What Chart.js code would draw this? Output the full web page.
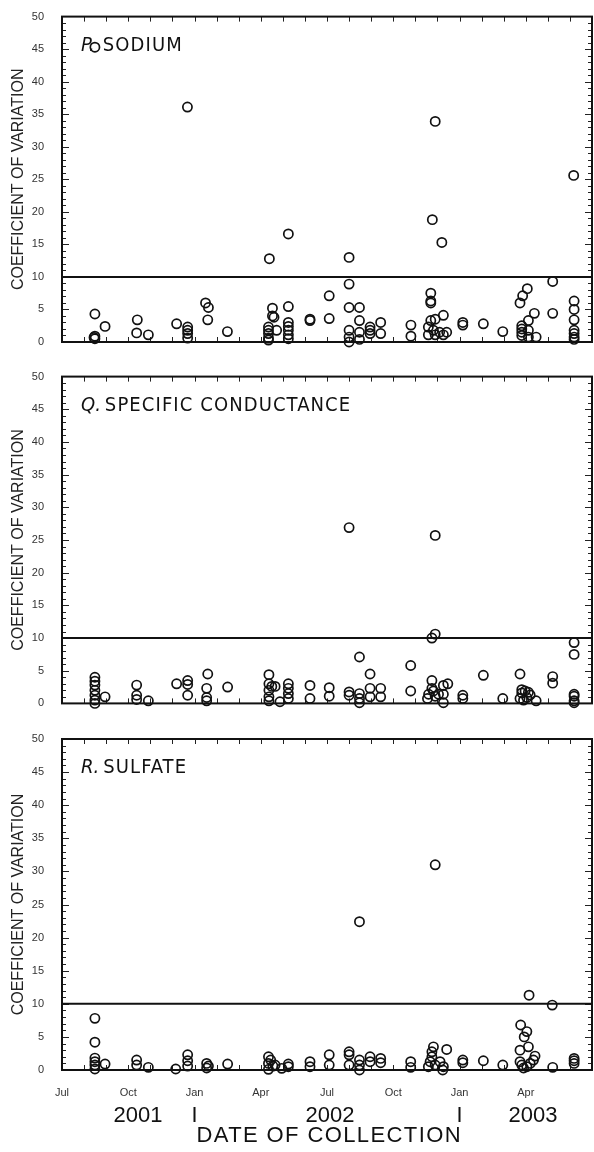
<!DOCTYPE html>
<html>
<head>
<meta charset="utf-8">
<script src="https://cdn.jsdelivr.net/npm/chart.js@4.4.0/dist/chart.umd.min.js"></script>
<style>
  body { margin: 0; background: #fff; overflow: hidden; }
  .panel { position: absolute; left: 0; width: 594px; }
</style>
</head>
<body>
<div class="panel" style="top:0;height:360px"><canvas id="sodiumChart"></canvas></div>
<div class="panel" style="top:360px;height:360px"><canvas id="conductanceChart"></canvas></div>
<div class="panel" style="top:720px;height:432px"><canvas id="sulfateChart"></canvas></div>
<script>
// x = months since 1 Jul 2001, y = coefficient of variation
const sodium = [
  [1.49,45.3],[5.68,36.1],[9.39,12.8],[10.25,16.6],[13.0,13.0],[16.9,33.9],[16.77,18.8],[17.2,15.3],[23.17,25.6],
  [1.49,4.3],[1.95,2.4],[1.49,0.9],[1.49,0.5],[1.45,0.7],
  [3.41,3.4],[3.38,1.4],[3.91,1.1],
  [5.19,2.8],[5.69,2.3],[5.69,1.8],[5.69,1.3],[5.69,0.6],
  [6.5,6.0],[6.63,5.3],[6.6,3.4],[7.49,1.6],
  [9.53,5.2],[9.53,4.0],[9.6,3.8],[9.35,2.3],[9.35,1.8],[9.35,1.3],[9.35,0.6],[9.35,0.3],[9.72,1.8],
  [10.25,5.45],[10.25,3.0],[10.25,2.4],[10.25,1.8],[10.25,1.1],[10.25,0.5],
  [11.23,3.3],[11.23,3.5],
  [12.1,7.1],[12.1,3.6],
  [13.0,8.9],[13.0,5.3],[13.47,5.3],[13.47,3.3],[13.0,1.8],[13.0,0.75],[13.0,0.0],[13.47,1.5],[13.47,0.4],
  [13.95,2.3],[13.95,1.8],[13.95,1.3],[14.43,3.0],[14.43,1.3],
  [15.8,2.6],[15.8,0.9],
  [16.7,7.5],[16.7,6.3],[16.7,6.0],[16.7,3.3],[16.9,3.5],[17.27,4.1],
  [16.59,2.3],[16.82,1.8],[16.59,1.1],[16.9,1.1],[17.1,1.5],[17.27,1.1],[17.42,1.5],
  [18.15,3.0],[18.15,2.6],[19.08,2.8],[19.96,1.6],
  [21.07,8.2],[20.86,7.1],[20.74,6.0],[21.39,4.4],[21.12,3.3],[20.82,2.5],[20.82,2.0],[20.82,1.5],[20.82,1.0],
  [21.12,1.8],[21.12,0.75],[21.47,0.75],
  [22.22,9.3],[22.22,4.4],
  [23.19,6.3],[23.19,5.0],[23.19,3.4],[23.19,1.8],[23.19,1.3],[23.19,0.75],[23.19,0.4]
];

const conductance = [
  [13.0,26.9],[16.9,25.7],[16.9,10.6],[16.75,10.0],
  [1.49,4.0],[1.49,3.4],[1.49,2.8],[1.49,2.0],[1.49,1.25],[1.49,0.5],[1.49,0.0],[1.95,1.0],
  [3.38,2.8],[3.38,1.25],[3.38,0.6],[3.91,0.4],
  [5.19,3.0],[5.69,3.5],[5.69,2.9],[5.69,1.25],
  [6.6,4.5],[6.55,2.3],[6.55,0.9],[6.55,0.4],[7.5,2.5],
  [9.37,4.4],[9.37,3.0],[9.5,2.6],[9.65,2.6],[9.37,2.0],[9.37,1.0],[9.37,0.4],[9.87,0.25],
  [10.25,3.0],[10.25,2.3],[10.25,1.5],[10.25,0.75],
  [11.23,2.75],[11.23,0.75],
  [12.1,2.4],[12.1,1.1],
  [13.0,1.75],[13.0,1.25],[13.47,7.1],[13.47,1.5],[13.47,0.75],[13.47,0.1],
  [13.95,4.5],[13.95,2.3],[13.95,1.0],[14.43,2.3],[14.43,1.0],
  [15.79,5.8],[15.79,1.9],
  [16.75,3.5],[16.75,2.3],[16.82,1.9],[16.6,1.4],[16.55,0.75],[16.9,1.1],[17.05,1.4],
  [17.27,2.75],[17.47,3.0],[17.27,1.4],[17.27,0.1],
  [18.15,1.25],[18.15,0.75],[19.08,4.3],[19.96,0.75],
  [20.74,4.5],[20.82,2.1],[20.82,1.6],[20.74,0.75],[20.97,1.9],[21.12,1.7],[21.2,1.3],[21.05,0.9],[20.9,0.5],[21.47,0.4],
  [22.22,4.1],[22.22,3.1],
  [23.19,9.3],[23.19,7.5],[23.19,1.4],[23.19,1.1],[23.19,0.4],[23.19,0.1]
];

const sulfate = [
  [13.47,22.4],[16.9,31.0],[21.15,11.3],[22.2,9.8],
  [1.49,7.8],[1.49,4.2],[1.49,1.8],[1.49,1.25],[1.49,0.75],[1.49,0.15],[1.95,0.9],
  [3.38,1.5],[3.38,0.75],[3.91,0.4],
  [5.15,0.15],[5.69,2.3],[5.69,1.4],[5.69,0.6],
  [6.55,1.0],[6.63,0.6],[6.55,0.3],[7.5,0.9],
  [9.35,2.0],[9.45,1.5],[9.35,1.0],[9.55,0.6],[9.35,0.1],[9.65,0.75],[9.95,0.25],
  [10.25,0.9],[10.25,0.5],[11.23,1.25],[11.23,0.5],
  [12.1,2.3],[12.1,0.75],
  [13.0,2.75],[13.0,2.3],[13.0,0.75],
  [13.47,1.5],[13.47,0.75],[13.47,0.0],
  [13.95,2.0],[13.95,1.25],[14.43,1.75],[14.43,1.1],
  [15.79,1.25],[15.79,0.4],
  [16.82,3.5],[16.75,2.75],[16.75,2.0],[16.67,1.25],[16.59,0.5],[16.9,0.75],[17.12,1.25],[17.27,0.5],[17.42,3.1],[17.24,0.0],
  [18.15,1.5],[18.15,1.1],[19.08,1.4],[19.96,0.75],
  [20.77,6.8],[21.05,5.8],[20.93,5.0],[21.12,3.5],[20.74,3.0],[21.42,2.1],[21.35,1.5],
  [20.74,1.25],[20.82,0.75],[20.9,0.3],[21.05,0.5],[21.2,1.0],
  [22.22,0.4],
  [23.19,1.75],[23.19,1.4],[23.19,1.0]
];

const threshold = 10;
const monthLabels = ['Jul', 'Oct', 'Jan', 'Apr', 'Jul', 'Oct', 'Jan', 'Apr', ''];
const yearLabels = ['2001', '2002', '2003'];
const yearCenters = [3.44, 12.14, 21.33];
const yearBreaks = [6, 18];
const xTitle = 'DATE OF COLLECTION';

// frame, inward ticks and panel letter/title
const frame = {
  id: 'frame',
  beforeDatasetsDraw(chart, args, opts) {
    const {ctx, chartArea: a, scales: {x, y}} = chart;
    ctx.save();
    ctx.strokeStyle = '#222';
    ctx.lineWidth = 1;
    ctx.beginPath();
    for (let m = 1; m < 24; m++) {
      const px = Math.round(x.getPixelForValue(m)) + 0.5;
      ctx.moveTo(px, a.top); ctx.lineTo(px, a.top + 5);
      ctx.moveTo(px, a.bottom); ctx.lineTo(px, a.bottom - 5);
    }
    for (let v = 1; v < 50; v++) {
      const py = Math.round(y.getPixelForValue(v)) + 0.5;
      const len = v % 5 === 0 ? 7 : 4;
      ctx.moveTo(a.left, py); ctx.lineTo(a.left + len, py);
      ctx.moveTo(a.right, py); ctx.lineTo(a.right - len, py);
    }
    ctx.stroke();
    ctx.strokeStyle = '#111';
    ctx.lineWidth = 2;
    ctx.strokeRect(a.left, a.top, a.right - a.left, a.bottom - a.top);
    ctx.restore();
  },
  afterDatasetsDraw(chart, args, opts) {
    const {ctx, chartArea: a} = chart;
    ctx.save();
    ctx.fillStyle = '#111';
    ctx.textBaseline = 'alphabetic';
    ctx.textAlign = 'left';
    ctx.font = 'italic 20px "Liberation Sans Narrow", "DejaVu Sans Condensed", sans-serif';
    ctx.letterSpacing = '0px';
    const x0 = a.left + 19, y0 = a.top + 34;
    ctx.fillText(opts.letter, x0, y0);
    const w = ctx.measureText(opts.letter).width;
    ctx.font = '20px "Liberation Sans Narrow", "DejaVu Sans Condensed", sans-serif';
    ctx.letterSpacing = '1.1px';
    ctx.fillText(opts.name, x0 + w + opts.gap, y0);
    ctx.restore();
  }
};

// year labels and axis title under the month ticks
const years = {
  id: 'years',
  afterDraw(chart) {
    if (!chart.options.plugins.years) return;
    const {ctx, scales: {x}} = chart;
    const base = chart.chartArea.bottom;
    ctx.save();
    ctx.fillStyle = '#111';
    ctx.textAlign = 'center';
    ctx.textBaseline = 'alphabetic';
    ctx.font = '22px "Liberation Sans", Arial, sans-serif';
    yearLabels.forEach((t, i) => ctx.fillText(t, x.getPixelForValue(yearCenters[i]), base + 52));
    ctx.letterSpacing = '1.4px';
    ctx.fillText(xTitle, x.getPixelForValue(12.1), base + 72);
    ctx.strokeStyle = '#111';
    ctx.lineWidth = 2;
    ctx.beginPath();
    yearBreaks.forEach(m => {
      const px = x.getPixelForValue(m);
      ctx.moveTo(px, base + 37); ctx.lineTo(px, base + 52);
    });
    ctx.stroke();
    ctx.restore();
  }
};

function makeChart(id, points, letter, name, gap, bottom) {
  const padTop = {sodiumChart: 12, conductanceChart: 13, sulfateChart: 19}[id];
  const xHeight = {sodiumChart: 18, conductanceChart: 14, sulfateChart: 82}[id];
  return new Chart(document.getElementById(id), {
    data: {
      datasets: [
        {
          type: 'line',
          data: [{x: 0, y: threshold}, {x: 24, y: threshold}],
          borderColor: '#111',
          borderWidth: 2,
          pointRadius: 0
        },
        {
          type: 'scatter',
          data: points.map(p => ({x: p[0], y: p[1]})),
          pointRadius: 4.6,
          pointBorderWidth: 1.7,
          borderColor: '#111',
          backgroundColor: 'rgba(0,0,0,0)',
          clip: false
        }
      ]
    },
    options: {
      animation: false,
      maintainAspectRatio: false,
      layout: {autoPadding: false, padding: {top: padTop, right: 2, bottom: 0, left: 0}},
      plugins: {
        legend: {display: false},
        tooltip: {enabled: false},
        frame: {letter: letter, name: name, gap: gap},
        years: bottom
      },
      scales: {
        x: {
          type: 'linear',
          min: 0,
          max: 24,
          grid: {display: false},
          border: {display: false},
          afterFit: s => { s.height = xHeight; s.paddingLeft = 0; s.paddingRight = 0; },
          ticks: {
            display: bottom,
            stepSize: 3,
            padding: 8,
            color: '#333',
            font: {family: '"Liberation Sans", Arial, sans-serif', size: 11},
            maxRotation: 0,
            autoSkip: false,
            callback: (v, i) => monthLabels[i]
          }
        },
        y: {
          min: 0,
          max: 50,
          grid: {display: false},
          border: {display: false},
          afterFit: s => { s.width = 62; },
          ticks: {
            stepSize: 5,
            padding: 10,
            color: '#333',
            font: {family: '"Liberation Sans", Arial, sans-serif', size: 11}
          },
          title: {
            display: true,
            text: 'COEFFICIENT OF VARIATION',
            color: '#222',
            font: {family: '"Liberation Sans", Arial, sans-serif', size: 16},
            padding: {top: 9, bottom: 0}
          }
        }
      }
    },
    plugins: [frame, years]
  });
}

makeChart('sodiumChart', sodium, 'P.', 'SODIUM', 8, false);
makeChart('conductanceChart', conductance, 'Q.', 'SPECIFIC CONDUCTANCE', 4, false);
makeChart('sulfateChart', sulfate, 'R.', 'SULFATE', 4, true);
</script>
</body>
</html>
